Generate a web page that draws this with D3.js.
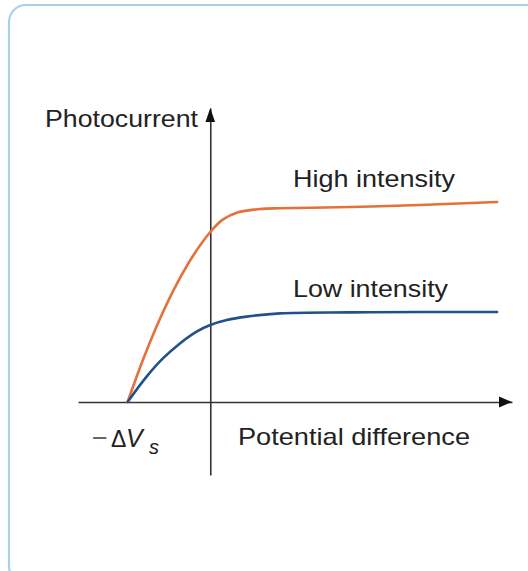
<!DOCTYPE html>
<html>
<head>
<meta charset="utf-8">
<script src="https://cdn.jsdelivr.net/npm/d3@7"></script>
<style>
  html, body { margin: 0; padding: 0; background: #fff; }
  svg { display: block; }
  text { font-family: "Liberation Sans", Arial, sans-serif; fill: #222; }
</style>
</head>
<body>
<div id="chart"></div>
<script>
// Potential difference (units of the stopping potential ΔVs)
const highX = [-1.0, -0.8, -0.6, -0.4, -0.2, 0.0, 0.15, 0.33, 0.6, 0.845, 1.69, 2.54, 3.47];
// Photocurrent, high-intensity light
const highY = [0.0, 2.26, 4.24, 5.94, 7.36, 8.5, 9.12, 9.48, 9.65, 9.69, 9.75, 9.85, 10.0];

const lowX = [-1.0, -0.77, -0.57, -0.367, -0.165, 0.0, 0.2, 0.44, 0.845, 1.69, 2.54, 3.47];
// Photocurrent, low-intensity light
const lowY = [0.0, 1.27, 2.19, 2.93, 3.52, 3.85, 4.1, 4.27, 4.43, 4.48, 4.5, 4.5];

const seriesNames = ["High intensity", "Low intensity"];
const seriesColors = ["#e4703a", "#22508a"];
const axisTitles = ["Photocurrent", "Potential difference"];

const W = 528, H = 571;
const svg = d3.select("#chart").append("svg").attr("width", W).attr("height", H);

// rounded card frame
svg.append("rect")
  .attr("x", 9).attr("y", 5)
  .attr("width", 534).attr("height", 578)
  .attr("rx", 17).attr("ry", 17)
  .attr("fill", "none")
  .attr("stroke", "#abcfe9")
  .attr("stroke-width", 2.2);

const x = d3.scaleLinear().domain([-1.6, 3.65]).range([78, 512]);
const y = d3.scaleLinear().domain([-3.65, 14.7]).range([475, 108]);

const axisColor = "#333";

// axes: bare domain lines, no ticks
const gx = svg.append("g")
  .attr("transform", `translate(0,${y(0)})`)
  .call(d3.axisBottom(x).tickValues([]).tickSizeOuter(0));
const gy = svg.append("g")
  .attr("transform", `translate(${x(0)},0)`)
  .call(d3.axisLeft(y).tickValues([]).tickSizeOuter(0));
[gx, gy].forEach(g => g.select(".domain").attr("stroke", axisColor).attr("stroke-width", 1.6));

// arrowheads at the positive ends
const xEnd = x.range()[1], y0 = y(0);
svg.append("path")
  .attr("d", `M${xEnd},${y0} L${xEnd - 13},${y0 - 5.5} L${xEnd - 13},${y0 + 5.5} Z`)
  .attr("fill", "#111");
const yEnd = y.range()[1], x0 = x(0);
svg.append("path")
  .attr("d", `M${x0},${yEnd} L${x0 - 4.8},${yEnd + 14} L${x0 + 4.8},${yEnd + 14} Z`)
  .attr("fill", "#111");

// curves
const line = d3.line()
  .x(d => x(d[0]))
  .y(d => y(d[1]))
  .curve(d3.curveCatmullRom.alpha(0.5));

const series = [
  d3.zip(highX, highY),
  d3.zip(lowX, lowY)
];
series.forEach((pts, i) => {
  svg.append("path")
    .datum(pts)
    .attr("d", line)
    .attr("fill", "none")
    .attr("stroke", seriesColors[i])
    .attr("stroke-width", 2.6)
    .attr("stroke-linecap", "round");
});

// labels
function label(txt, x0, base, width, size) {
  svg.append("text")
    .attr("x", x0).attr("y", base)
    .attr("font-size", size)
    .attr("textLength", width)
    .attr("lengthAdjust", "spacingAndGlyphs")
    .text(txt);
}
label(axisTitles[0], 45, 127, 153, 23.5);
label(seriesNames[0], 293, 187, 162, 24);
label(seriesNames[1], 293, 297, 155, 24);
label(axisTitles[1], 238, 445, 232, 24);

// stopping-potential label: −ΔV with italic subscript s
const vs = svg.append("text").attr("y", 447).attr("font-size", 23);
vs.append("tspan").attr("x", 92).attr("fill", "#666").attr("font-size", 27).text("\u2212");
vs.append("tspan").attr("x", 111).text("\u0394");
vs.append("tspan").attr("x", 126).attr("font-style", "italic").attr("font-size", 25).text("V");
vs.append("tspan").attr("x", 149).attr("y", 454).attr("font-style", "italic").attr("font-size", 20).text("s");
</script>
</body>
</html>
